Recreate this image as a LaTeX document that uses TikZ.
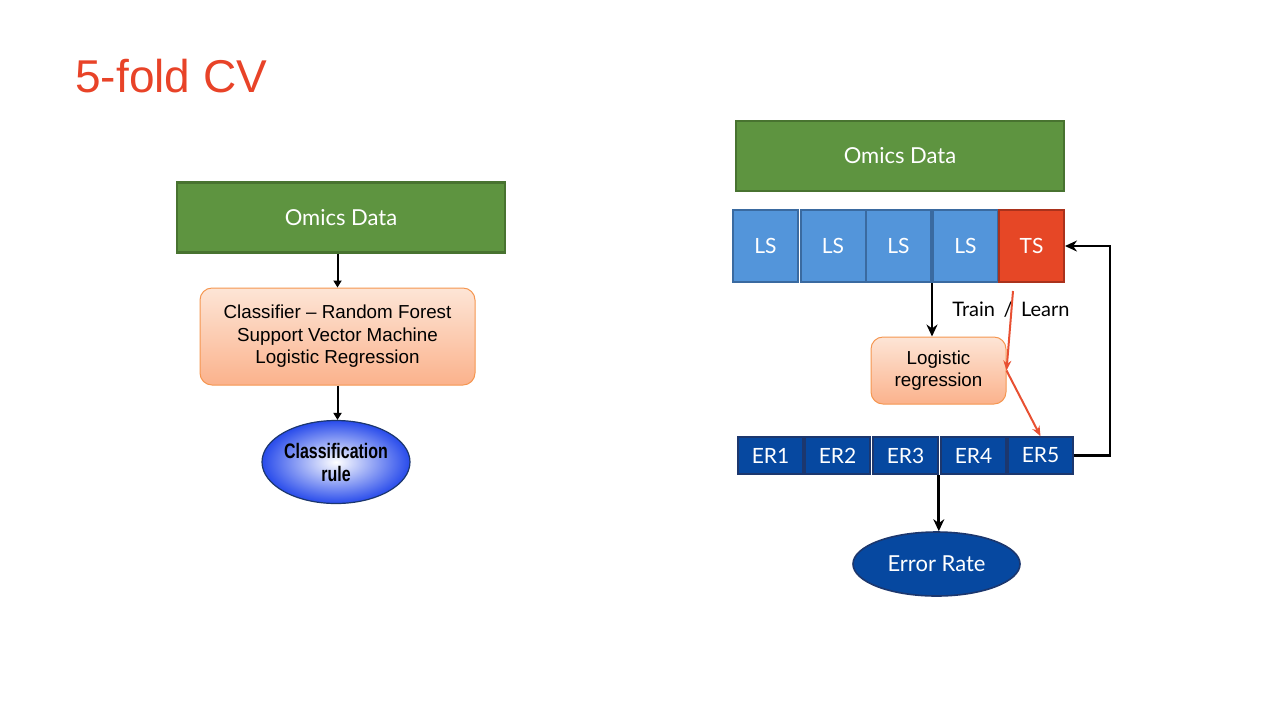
\documentclass[tikz,border=0pt]{standalone}
\usepackage{fontspec}
\setmainfont{Liberation Sans}
\newfontfamily\gillfont{Lato}
\newfontfamily\narrowfont[FakeStretch=0.76]{Liberation Sans}
\usetikzlibrary{positioning,arrows.meta,shapes.geometric}

\definecolor{omicsgreen}{RGB}{94,148,64}
\definecolor{omicsedge}{RGB}{72,115,48}
\definecolor{lsblue}{RGB}{83,149,218}
\definecolor{lsedge}{RGB}{58,106,160}
\definecolor{tsred}{RGB}{230,71,38}
\definecolor{tsedge}{RGB}{170,50,28}
\definecolor{erblue}{RGB}{6,72,160}
\definecolor{eredge}{RGB}{28,55,110}
\definecolor{titlered}{RGB}{232,67,40}
\definecolor{peachtop}{RGB}{253,229,214}
\definecolor{peachbot}{RGB}{251,178,140}
\definecolor{peachedge}{RGB}{245,150,80}
\definecolor{ballblue}{RGB}{40,75,235}
\definecolor{redline}{RGB}{232,80,50}

\tikzset{
  omics/.style={rectangle, draw=omicsedge, line width=1.2pt, fill=omicsgreen, text=white,
                font=\gillfont\fontsize{11}{13}\selectfont, minimum width=164pt, minimum height=35pt},
  fold/.style={rectangle, draw=lsedge, line width=1pt, fill=lsblue, text=white, inner sep=0pt,
               font=\gillfont\fontsize{10.5}{12}\selectfont, minimum width=32.5pt, minimum height=36pt},
  testfold/.style={fold, draw=tsedge, fill=tsred},
  errbox/.style={rectangle, draw=eredge, line width=0.8pt, fill=erblue, text=white, inner sep=0pt,
                 font=\gillfont\fontsize{10.5}{12}\selectfont, minimum width=32.5pt, minimum height=18.5pt},
  model/.style={rectangle, rounded corners=6pt, draw=peachedge, line width=0.5pt,
                top color=peachtop, bottom color=peachbot, align=center,
                font=\fontsize{9.4}{11.2}\selectfont},
  flow/.style={-{Triangle[length=3.5pt,width=4pt]}, line width=1pt},
  bigflow/.style={-{Stealth[length=6pt,width=5.5pt]}, line width=1.4pt},
  redflow/.style={-{Stealth[length=5pt,width=4pt]}, line width=1pt, draw=redline}
}

\begin{document}
\begin{tikzpicture}[x=0.5pt, y=-0.5pt]
    \useasboundingbox (0,0) rectangle (1280,720);

    % Title
    \node[anchor=base west, inner sep=0pt, text=titlered, font=\fontsize{23}{27}\selectfont] (title) at (75,92) {5-fold CV};

    % Left - model fitting on all data
    \node[omics] (omicsL) at (341,217.5) {Omics Data};
    \node[model, minimum width=137.5pt, minimum height=48.5pt] (clf) at (337.5,336.5)
        {Classifier -- Random Forest\\Support Vector Machine\\Logistic Regression};
    \node[ellipse, draw=eredge, line width=0.6pt, inner color=white, outer color=ballblue,
          minimum width=74pt, minimum height=41.5pt, inner sep=0pt, align=center,
          font=\narrowfont\bfseries\fontsize{10.5}{11.5}\selectfont] (rule) at (336,462)
        {Classification\\rule};

    \draw[flow] (clf.north |- omicsL.south) -- (clf.north);
    \draw[flow] (clf.south) -- (clf.south |- rule.north);

    % Right - folds
    \node[omics] (omicsR) at (900,156) {Omics Data};
    \foreach \i/\x in {1/765.5, 2/833, 3/898.5, 4/965.5} {
        \node[fold] (ls\i) at (\x,246) {LS};
    }
    \node[testfold] (ts) at (1031.5,246) {TS};

    \node[model, minimum width=67.5pt, minimum height=33.5pt] (logit) at (938.5,370.5)
        {Logistic\\regression};
    \node[font=\gillfont\fontsize{10}{12}\selectfont] (learn) at (1011,310) {Train \,/\, Learn};

    % Error rates of the folds
    \foreach \i/\x in {1/770.5, 2/837.5, 3/905.5, 4/973.5, 5/1040.5} {
        \node[errbox] (er\i) at (\x,455.5) {ER\i};
    }
    \node[ellipse, draw=eredge, line width=0.8pt, fill=erblue, text=white, inner sep=0pt,
          minimum width=83.5pt, minimum height=32pt,
          font=\gillfont\fontsize{11}{13}\selectfont] (err) at (936.5,564) {Error Rate};

    % Connectors
    \draw[bigflow] (ls4.south west) -- (ls4.south west |- logit.north);
    \coordinate (tsout) at (1013,291);
    \draw[redflow] (tsout) -- (logit.east);
    \draw[redflow] (logit.east) -- (er5.north);
    \coordinate (loop) at (1110,246);
    \draw[bigflow] (er5.east) -| (loop) -- (ts.east);
    \draw[bigflow] (er3.south east) -- (er3.south east |- err.north);
\end{tikzpicture}
\end{document}
